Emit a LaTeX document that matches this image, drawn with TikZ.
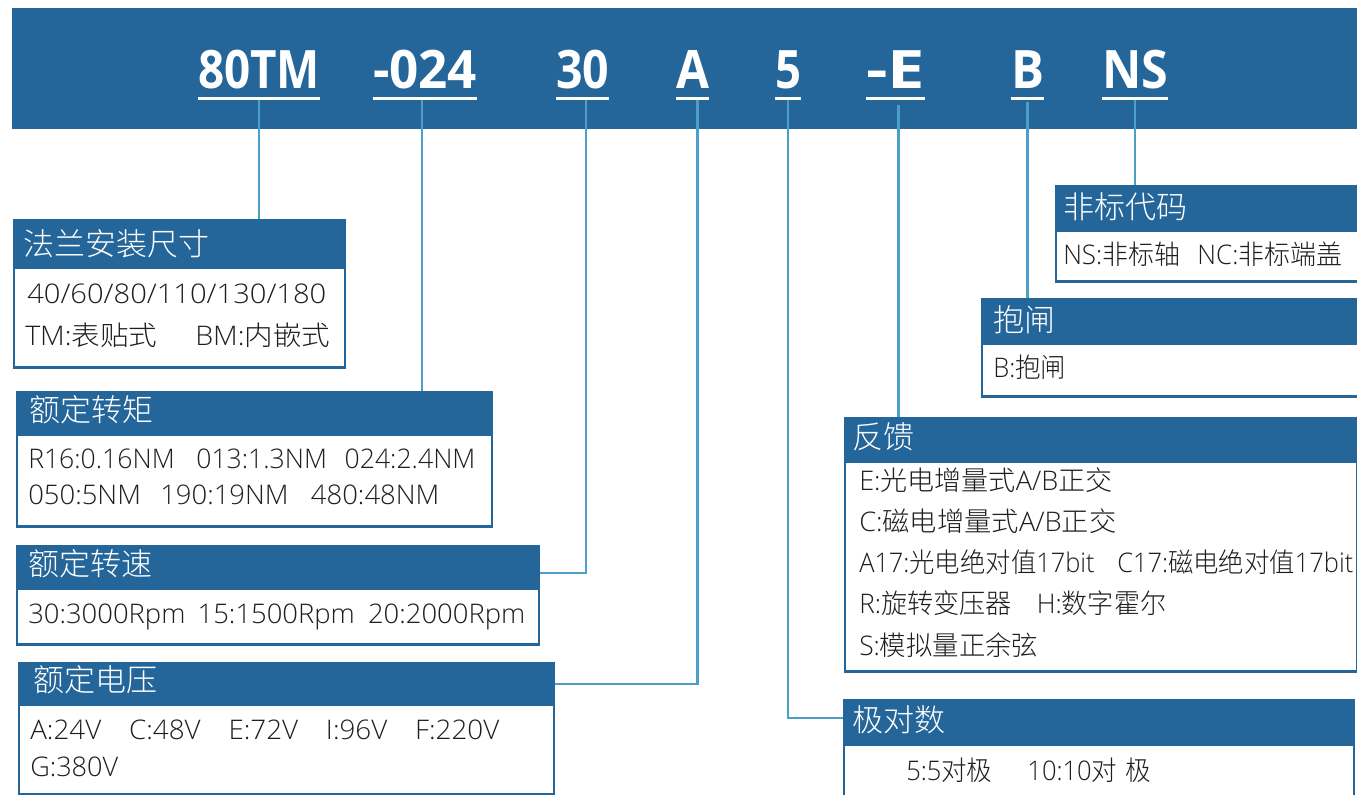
\documentclass[tikz,border=0pt]{standalone}
\usepackage{fontspec}
\usepackage{graphicx}
\setmainfont{Open Sans}
\newfontfamily\lite{Open Sans Light}
\newfontfamily\cjk{Noto Sans CJK SC}
\newfontfamily\cjkl{Noto Sans CJK SC Light}
\definecolor{hblue}{RGB}{37,102,154}
\definecolor{lblue}{RGB}{76,160,200}
\definecolor{txtc}{RGB}{30,30,30}
\def\PX{0.75pt}
\newdimen\pxu \pxu=0.75pt
\newsavebox\fitbox
\newdimen\fitdim
\newcommand\fitw[2]{\sbox\fitbox{#2}\fitdim=\wd\fitbox\pgfmathsetmacro\fitr{#1*0.75/\fitdim}\scalebox{\fitr}[1]{\usebox\fitbox}}
\newcommand\zh[1]{{\cjkl #1}}
\newcommand\gp[1]{\hspace{#1\pxu}}
\tikzset{
  banner/.style={fill=hblue, inner sep=0, anchor=north west},
  hdr/.style={fill=hblue, draw=hblue, line width=1.7pt, inner sep=0, anchor=north west},
  bodyb/.style={fill=white, draw=hblue, line width=1.7pt, inner sep=0, anchor=north west},
  code/.style={text=white, font=\fontsize{39.75pt}{40pt}\selectfont\bfseries, inner sep=0, anchor=base, text depth=7.5pt},
  uline/.style={draw=white, line width=1.9pt},
  conn/.style={draw=lblue, line width=2.2pt},
  ttl/.style={text=white, font=\cjkl\fontsize{23.25pt}{24pt}\selectfont, inner sep=0, anchor=base west},
  btxt/.style={text=txtc, font=\lite\fontsize{20.25pt}{22pt}\selectfont, inner sep=0, anchor=base west},
}
\begin{document}
\begin{tikzpicture}[x=0.75pt,y=-0.75pt]
\useasboundingbox (0,0) rectangle (1357,794);
\clip (0,0) rectangle (1357,794);
% banner
\node[banner, minimum width=1350*\PX, minimum height=121*\PX] (bnr) at (12,8) {};
% codes
\node[code] (c1) at (259,88) {\fitw{122}{80TM}};
\node[code] (c2) at (425,88) {\fitw{104}{-024}};
\node[code] (c3) at (582.5,88) {\fitw{53}{30}};
\node[code] (c4) at (692.5,88) {\fitw{33}{A}};
\node[code] (c5) at (788,88) {\fitw{26}{5}};
\node[code] (c6) at (895.5,88) {\fitw{59}{-E}};
\node[code] (c7) at (1027.5,88) {\fitw{33}{B}};
\node[code] (c8) at (1135,88) {\fitw{66}{NS}};
\foreach \c in {c1,c2,c3,c4,c5,c6,c7,c8}
  \draw[uline] (\c.south west) -- (\c.south east);
% boxes
\node[hdr, minimum width=331*\PX, minimum height=45*\PX] (h1) at (13,219) {};
\node[bodyb, minimum width=331*\PX, minimum height=100*\PX] (b1) at (h1.south west) {};
\node[hdr, minimum width=475*\PX, minimum height=40*\PX] (h2) at (16,391) {};
\node[bodyb, minimum width=475*\PX, minimum height=92*\PX] (b2) at (h2.south west) {};
\node[hdr, minimum width=522*\PX, minimum height=40*\PX] (h3) at (16,545) {};
\node[bodyb, minimum width=522*\PX, minimum height=56*\PX] (b3) at (h3.south west) {};
\node[hdr, minimum width=535*\PX, minimum height=39*\PX] (h4) at (18,662) {};
\node[bodyb, minimum width=535*\PX, minimum height=90*\PX] (b4) at (h4.south west) {};
\node[hdr, minimum width=312*\PX, minimum height=42*\PX] (h5) at (1055,185) {};
\node[bodyb, minimum width=312*\PX, minimum height=51*\PX] (b5) at (h5.south west) {};
\node[hdr, minimum width=386*\PX, minimum height=42*\PX] (h6) at (981,298) {};
\node[bodyb, minimum width=386*\PX, minimum height=53*\PX] (b6) at (h6.south west) {};
\node[hdr, minimum width=512*\PX, minimum height=41*\PX] (h7) at (844,417) {};
\node[bodyb, minimum width=512*\PX, minimum height=210*\PX] (b7) at (h7.south west) {};
\node[hdr, minimum width=510*\PX, minimum height=42*\PX] (h8) at (843,699) {};
\node[bodyb, minimum width=510*\PX, minimum height=70*\PX] (b8) at (h8.south west) {};
% titles
\node[ttl] (t1) at (23,255) {法兰安装尺寸};
\node[ttl] (t2) at (29,421) {额定转矩};
\node[ttl] (t3) at (28,575) {额定转速};
\node[ttl] (t4) at (33,691) {额定电压};
\node[ttl] (t5) at (1063,218) {非标代码};
\node[ttl] (t6) at (993,331) {抱闸};
\node[ttl] (t7) at (852,448) {反馈};
\node[ttl] (t8) at (852,731) {极对数};
% body texts
\node[btxt] (l11) at (27,303) {\fitw{299}{40/60/80/110/130/180}};
\node[btxt] (l12) at (25,345) {\fitw{305}{TM:\zh{表贴式}\gp{36}BM:\zh{内嵌式}}};
\node[btxt] (l21) at (28,468) {\fitw{447}{R16:0.16NM\gp{22}013:1.3NM\gp{18}024:2.4NM}};
\node[btxt] (l22) at (28,504) {\fitw{411}{050:5NM\gp{19}190:19NM\gp{22}480:48NM}};
\node[btxt] (l31) at (28,623) {\fitw{497}{30:3000Rpm\gp{12}15:1500Rpm\gp{13}20:2000Rpm}};
\node[btxt] (l41) at (30,739) {\fitw{469}{A:24V\gp{27}C:48V\gp{27}E:72V\gp{27}I:96V\gp{27}F:220V}};
\node[btxt] (l42) at (30,776) {\fitw{88}{G:380V}};
\node[btxt] (l51) at (1063,264) {\fitw{279}{NS:\zh{非标轴}\gp{18}NC:\zh{非标端盖}}};
\node[btxt] (l61) at (993,377) {\fitw{73}{B:\zh{抱闸}}};
\node[btxt] (l71) at (859,490) {\fitw{253}{E:\zh{光电增量式}A/B\zh{正交}}};
\node[btxt] (l72) at (859,531) {\fitw{257}{C:\zh{磁电增量式}A/B\zh{正交}}};
\node[btxt] (l73) at (859,572) {\fitw{494}{A17:\zh{光电绝对值}17bit\gp{24}C17:\zh{磁电绝对值}17bit}};
\node[btxt] (l74) at (859,613) {\fitw{307}{R:\zh{旋转变压器}\gp{26}H:\zh{数字霍尔}}};
\node[btxt] (l75) at (859,655) {\fitw{179}{S:\zh{模拟量正余弦}}};
\node[btxt] (l81) at (906,780) {\fitw{245}{5:5\zh{对极}\gp{37}10:10\zh{对}\gp{9}\zh{极}}};
% connectors
\draw[conn] ([yshift=-1.5pt]c1.south) coordinate (s1) -- (s1 |- h1.north);
\draw[conn] ([xshift=-2.25pt,yshift=-1.5pt]c2.south) coordinate (s2) -- (s2 |- h2.north);
\draw[conn] ([xshift=2.6pt,yshift=-1.5pt]c3.south) |- ([yshift=-21pt]h3.north east);
\draw[conn] ([xshift=3.4pt,yshift=-1.5pt]c4.south) |- ([yshift=-16.5pt]h4.north east);
\draw[conn] ([yshift=-1.5pt]c5.south) |- ([yshift=-14.25pt]h8.north west);
\draw[conn] ([xshift=1.9pt,yshift=-5pt]c6.south) coordinate (s6) -- (s6 |- h7.north);
\draw[conn] ([yshift=-3pt]c7.south) coordinate (s7) -- (s7 |- h6.north);
\draw[conn] ([yshift=-1.5pt]c8.south) coordinate (s8) -- (s8 |- h5.north);
\end{tikzpicture}
\end{document}
